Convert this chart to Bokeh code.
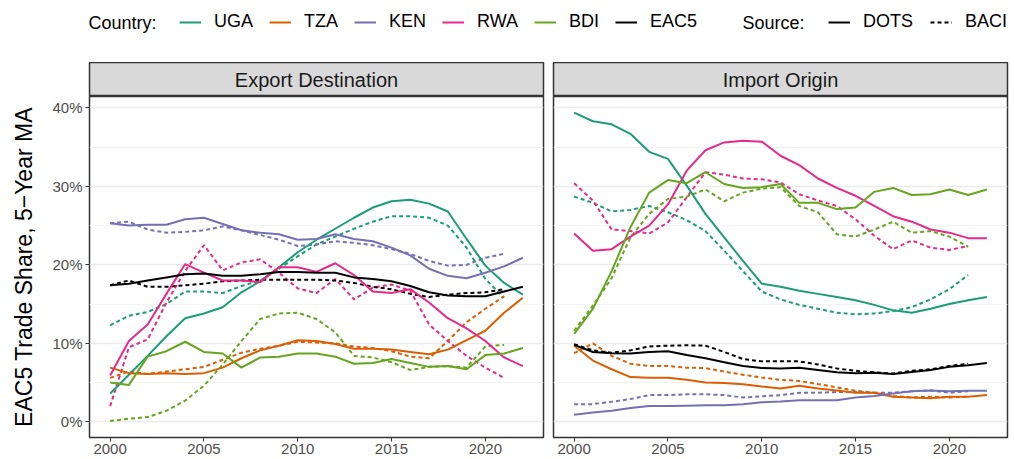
from bokeh.plotting import figure
from bokeh.models import Range1d, FixedTicker, PrintfTickFormatter, Label, Legend, LegendItem
from bokeh.layouts import column, row
from bokeh.embed import file_html
from bokeh.resources import INLINE

FONT = "Liberation Sans"

years_dots = list(range(2000, 2023))
years_baci = list(range(2000, 2022))
countries = ["UGA", "TZA", "KEN", "RWA", "BDI", "EAC5"]
country_colors = ["#1B9E77", "#D95F02", "#7570B3", "#E7298A", "#66A61E", "#000000"]
y_ticks = [0, 10, 20, 30, 40]
y_minor = [5, 15, 25, 35]
x_ticks = [2000, 2005, 2010, 2015, 2020]

# ---- Export Destination (percent) ----
exp_dots_uga = [3.6, 6.0, 8.4, 10.9, 13.2, 13.8, 14.6, 16.5, 17.9, 19.7, 21.6, 23.2, 24.6, 26.0, 27.3, 28.1, 28.3, 27.8, 26.8, 23.3, 19.9, 17.7, 16.2]
exp_baci_uga = [12.3, 13.5, 14.0, 15.0, 16.6, 16.6, 16.4, 17.3, 18.0, 19.5, 21.1, 22.6, 23.6, 24.6, 25.5, 26.2, 26.2, 26.0, 25.0, 22.2, 18.2, 15.8]
exp_dots_tza = [6.9, 6.2, 6.1, 6.2, 6.1, 6.2, 6.9, 8.1, 9.1, 9.7, 10.4, 10.3, 9.9, 9.3, 9.3, 9.2, 8.9, 8.6, 9.2, 10.4, 11.6, 13.9, 15.8]
exp_baci_tza = [5.6, 6.4, 6.1, 6.4, 6.7, 7.0, 7.9, 8.8, 9.3, 9.7, 10.2, 10.1, 10.0, 9.6, 9.4, 9.0, 8.3, 8.1, 10.3, 12.7, 14.4, 16.0]
exp_dots_ken = [25.3, 25.0, 25.1, 25.1, 25.8, 26.0, 25.2, 24.4, 24.1, 23.9, 23.2, 23.3, 23.9, 23.3, 23.0, 22.2, 21.2, 19.5, 18.6, 18.3, 19.0, 19.8, 20.9]
exp_baci_ken = [25.3, 25.5, 24.5, 24.1, 24.2, 24.4, 24.9, 24.4, 23.8, 23.2, 22.4, 22.6, 23.0, 22.8, 22.5, 22.0, 21.4, 20.5, 19.9, 20.0, 20.9, 21.4]
exp_dots_rwa = [5.9, 10.3, 12.4, 16.3, 20.1, 19.0, 18.0, 18.0, 17.8, 19.7, 19.7, 19.1, 20.2, 18.7, 16.6, 16.4, 16.9, 15.2, 13.2, 11.9, 10.3, 8.2, 7.1]
exp_baci_rwa = [2.0, 9.5, 10.5, 15.2, 19.2, 22.5, 19.3, 20.3, 20.7, 19.0, 17.0, 16.4, 18.2, 15.6, 17.1, 17.5, 16.7, 12.4, 10.3, 8.4, 6.9, 5.6]
exp_dots_bdi = [5.0, 4.7, 8.3, 9.0, 10.2, 8.9, 8.7, 6.9, 8.2, 8.3, 8.7, 8.7, 8.3, 7.4, 7.5, 8.0, 7.5, 7.0, 7.1, 6.7, 8.5, 8.7, 9.4]
exp_baci_bdi = [0.1, 0.4, 0.6, 1.4, 2.7, 4.6, 7.3, 10.3, 13.1, 13.8, 13.9, 13.1, 11.4, 8.4, 8.2, 7.6, 6.6, 7.0, 7.1, 6.9, 9.6, 9.8]
exp_dots_eac = [17.4, 17.6, 18.0, 18.4, 18.8, 18.9, 18.6, 18.6, 18.8, 19.1, 19.1, 19.0, 19.0, 18.4, 18.2, 17.9, 17.3, 16.5, 16.1, 16.0, 16.0, 16.6, 17.2]
exp_baci_eac = [17.4, 18.0, 17.2, 17.2, 17.4, 17.6, 17.9, 18.0, 18.1, 18.1, 18.1, 18.1, 18.0, 17.7, 17.2, 16.9, 16.3, 15.9, 16.2, 16.4, 16.5, 16.9]

# ---- Import Origin (percent) ----
imp_dots_uga = [39.4, 38.3, 37.9, 36.7, 34.4, 33.5, 30.1, 26.5, 23.5, 20.5, 17.6, 17.2, 16.7, 16.3, 15.9, 15.5, 14.9, 14.2, 13.9, 14.4, 15.0, 15.5, 15.9]
imp_baci_uga = [28.7, 27.9, 26.8, 27.0, 27.5, 26.7, 25.7, 24.3, 21.8, 19.2, 16.6, 15.6, 14.9, 14.4, 13.9, 13.7, 13.8, 14.1, 14.6, 15.6, 16.9, 18.7]
imp_dots_tza = [9.7, 7.8, 6.7, 5.7, 5.6, 5.6, 5.35, 5.0, 4.95, 4.8, 4.5, 4.25, 4.6, 4.25, 4.0, 3.7, 3.7, 3.2, 3.1, 3.0, 3.2, 3.2, 3.4]
imp_baci_tza = [8.75, 10.0, 8.4, 7.4, 7.1, 7.1, 6.9, 6.85, 6.4, 6.0, 5.65, 5.35, 5.2, 4.8, 4.4, 3.95, 3.7, 3.3, 3.1, 3.2, 3.1, 3.2]
imp_dots_ken = [0.9, 1.2, 1.4, 1.75, 2.0, 2.0, 2.05, 2.1, 2.1, 2.25, 2.5, 2.6, 2.75, 2.75, 2.75, 3.1, 3.3, 3.6, 3.9, 4.0, 3.9, 3.95, 3.95]
imp_baci_ken = [2.25, 2.25, 2.55, 2.9, 3.4, 3.4, 3.5, 3.5, 3.4, 3.1, 3.25, 3.4, 3.7, 3.7, 3.8, 3.8, 3.7, 3.7, 3.9, 4.0, 3.7, 3.9]
imp_dots_rwa = [24.0, 21.8, 22.0, 23.6, 25.0, 27.7, 32.0, 34.6, 35.6, 35.8, 35.7, 33.9, 32.7, 31.0, 29.8, 28.8, 27.5, 26.2, 25.5, 24.5, 24.1, 23.4, 23.4]
imp_baci_rwa = [30.4, 28.2, 24.5, 24.3, 24.0, 25.4, 28.6, 31.8, 31.5, 31.0, 30.9, 30.5, 29.0, 28.2, 27.5, 25.8, 23.7, 22.0, 23.1, 22.2, 21.9, 22.4]
imp_dots_bdi = [11.2, 14.4, 19.2, 24.8, 29.2, 30.8, 30.4, 31.8, 30.3, 29.8, 29.9, 30.3, 27.9, 27.9, 27.1, 27.3, 29.3, 29.8, 28.9, 29.0, 29.6, 28.9, 29.6]
imp_baci_bdi = [11.6, 14.8, 18.3, 23.5, 26.5, 28.4, 28.7, 29.6, 28.1, 29.2, 29.7, 29.9, 27.5, 26.7, 23.9, 23.6, 24.5, 25.5, 24.1, 24.3, 23.6, 22.3]
imp_dots_eac = [9.8, 8.9, 8.75, 8.7, 8.9, 9.0, 8.5, 8.1, 7.6, 7.1, 6.85, 6.8, 6.9, 6.6, 6.3, 6.2, 6.25, 6.1, 6.35, 6.6, 7.0, 7.2, 7.5]
imp_baci_eac = [9.9, 9.1, 8.8, 9.1, 9.6, 9.7, 9.75, 9.7, 8.9, 8.0, 7.7, 7.7, 7.7, 7.3, 6.8, 6.5, 6.3, 6.15, 6.5, 6.7, 7.1, 7.4]

exp_dots = [exp_dots_uga, exp_dots_tza, exp_dots_ken, exp_dots_rwa, exp_dots_bdi, exp_dots_eac]
exp_baci = [exp_baci_uga, exp_baci_tza, exp_baci_ken, exp_baci_rwa, exp_baci_bdi, exp_baci_eac]
imp_dots = [imp_dots_uga, imp_dots_tza, imp_dots_ken, imp_dots_rwa, imp_dots_bdi, imp_dots_eac]
imp_baci = [imp_baci_uga, imp_baci_tza, imp_baci_ken, imp_baci_rwa, imp_baci_bdi, imp_baci_eac]

LW = 2
DASH = "4 3"
TOTAL_W = 1014
LEG_H = 62
STRIP_H = 34
PANEL_H = 459 - LEG_H - STRIP_H
LEFT_W = 548
RIGHT_W = TOTAL_W - LEFT_W
BL_LEFT, BR_LEFT = 89, 5
BL_RIGHT, BR_RIGHT = 5, 7


def make_strip(text, left):
    s = figure(width=LEFT_W if left else RIGHT_W, height=STRIP_H,
               x_range=Range1d(0, 1), y_range=Range1d(0, 1),
               x_axis_location=None, y_axis_location=None,
               min_border_left=BL_LEFT if left else BL_RIGHT,
               min_border_right=BR_LEFT if left else BR_RIGHT,
               min_border_top=0, min_border_bottom=0,
               toolbar_location=None, output_backend="svg")
    s.grid.visible = False
    s.background_fill_color = "#D9D9D9"
    s.outline_line_color = "#333333"
    s.outline_line_width = 1.5
    s.add_layout(Label(x=0.5, y=0.5, text=text, text_align="center", text_baseline="middle",
                       text_font=FONT, text_font_size="20px", text_color="#1A1A1A"))
    return s


def make_panel(dots, baci, left):
    p = figure(width=LEFT_W if left else RIGHT_W, height=PANEL_H,
               x_range=Range1d(1998.9, 2023.1), y_range=Range1d(-2.0, 41.45),
               min_border_left=BL_LEFT if left else BL_RIGHT,
               min_border_right=BR_LEFT if left else BR_RIGHT,
               min_border_top=0, min_border_bottom=22,
               toolbar_location=None, output_backend="svg")
    p.outline_line_color = "#333333"
    p.outline_line_width = 1.5
    p.xgrid.visible = False
    yt = FixedTicker(ticks=y_ticks, minor_ticks=y_minor)
    p.yaxis.ticker = yt
    p.ygrid.ticker = yt
    p.ygrid.grid_line_color = "#EBEBEB"
    p.ygrid.grid_line_width = 1.5
    p.ygrid.minor_grid_line_color = "#F3F3F3"
    p.ygrid.minor_grid_line_width = 1
    p.xaxis.ticker = FixedTicker(ticks=x_ticks, minor_ticks=[])
    p.yaxis.formatter = PrintfTickFormatter(format="%d%%")
    for ax in (p.xaxis, p.yaxis):
        ax.axis_line_color = None
        ax.major_tick_line_color = "#333333"
        ax.major_tick_line_width = 1
        ax.major_tick_in = 0
        ax.major_tick_out = 4
        ax.minor_tick_line_color = None
        ax.major_label_text_font = FONT
        ax.major_label_text_font_size = "15px"
        ax.major_label_text_color = "#4D4D4D"
    p.xaxis.major_label_standoff = 2
    p.yaxis.major_label_standoff = 3
    if left:
        p.yaxis.axis_label = "EAC5 Trade Share, 5\u2212Year MA"
        p.yaxis.axis_label_text_font = FONT
        p.yaxis.axis_label_text_font_size = "23px"
        p.yaxis.axis_label_text_font_style = "normal"
        p.yaxis.axis_label_text_color = "black"
        p.yaxis.axis_label_standoff = 12
    else:
        p.yaxis.visible = False
    for vals, col in zip(baci, country_colors):
        p.line(years_baci, vals, line_color=col, line_width=LW, line_dash=DASH)
    for vals, col in zip(dots, country_colors):
        p.line(years_dots, vals, line_color=col, line_width=LW)
    return p


# ---- legend strip (its ranges keep the data lines out of view; only the keys show) ----
lg = figure(width=TOTAL_W, height=LEG_H, x_range=Range1d(0, 1), y_range=Range1d(0, 1),
            x_axis_location=None, y_axis_location=None,
            min_border=0, toolbar_location=None, output_backend="svg")
lg.grid.visible = False
lg.outline_line_color = None
c_items = []
for name, col, vals in zip(countries, country_colors, exp_dots):
    r = lg.line(years_dots, vals, line_color=col, line_width=LW)
    c_items.append(LegendItem(label=name, renderers=[r]))
r_dots = lg.line(years_dots, exp_dots_eac, line_color="black", line_width=LW)
r_baci = lg.line(years_baci, exp_baci_eac, line_color="black", line_width=LW, line_dash=DASH)
s_items = [LegendItem(label="DOTS", renderers=[r_dots]), LegendItem(label="BACI", renderers=[r_baci])]


def style_legend(leg, spacing):
    leg.orientation = "horizontal"
    leg.label_text_font = FONT
    leg.label_text_font_size = "18px"
    leg.label_text_color = "black"
    leg.glyph_width = 22
    leg.glyph_height = 20
    leg.label_height = 20
    leg.label_standoff = 13
    leg.spacing = spacing
    leg.padding = 0
    leg.margin = 0
    leg.border_line_color = None
    leg.background_fill_alpha = 0


leg_c = Legend(items=c_items, location=(179, 30))
style_legend(leg_c, 16)
leg_s = Legend(items=s_items, location=(828, 30))
style_legend(leg_s, 17)
lg.add_layout(leg_c)
lg.add_layout(leg_s)
lg.add_layout(Label(x=88, y=40, x_units="screen", y_units="screen", text="Country:",
                    text_font=FONT, text_font_size="18px", text_baseline="middle", text_color="black"))
lg.add_layout(Label(x=742, y=40, x_units="screen", y_units="screen", text="Source:",
                    text_font=FONT, text_font_size="18px", text_baseline="middle", text_color="black"))

strip_l = make_strip("Export Destination", True)
strip_r = make_strip("Import Origin", False)
panel_l = make_panel(exp_dots, exp_baci, True)
panel_r = make_panel(imp_dots, imp_baci, False)

layout = column(lg, row(column(strip_l, panel_l), column(strip_r, panel_r)))

open("out.html", "w").write(file_html(layout, INLINE))
